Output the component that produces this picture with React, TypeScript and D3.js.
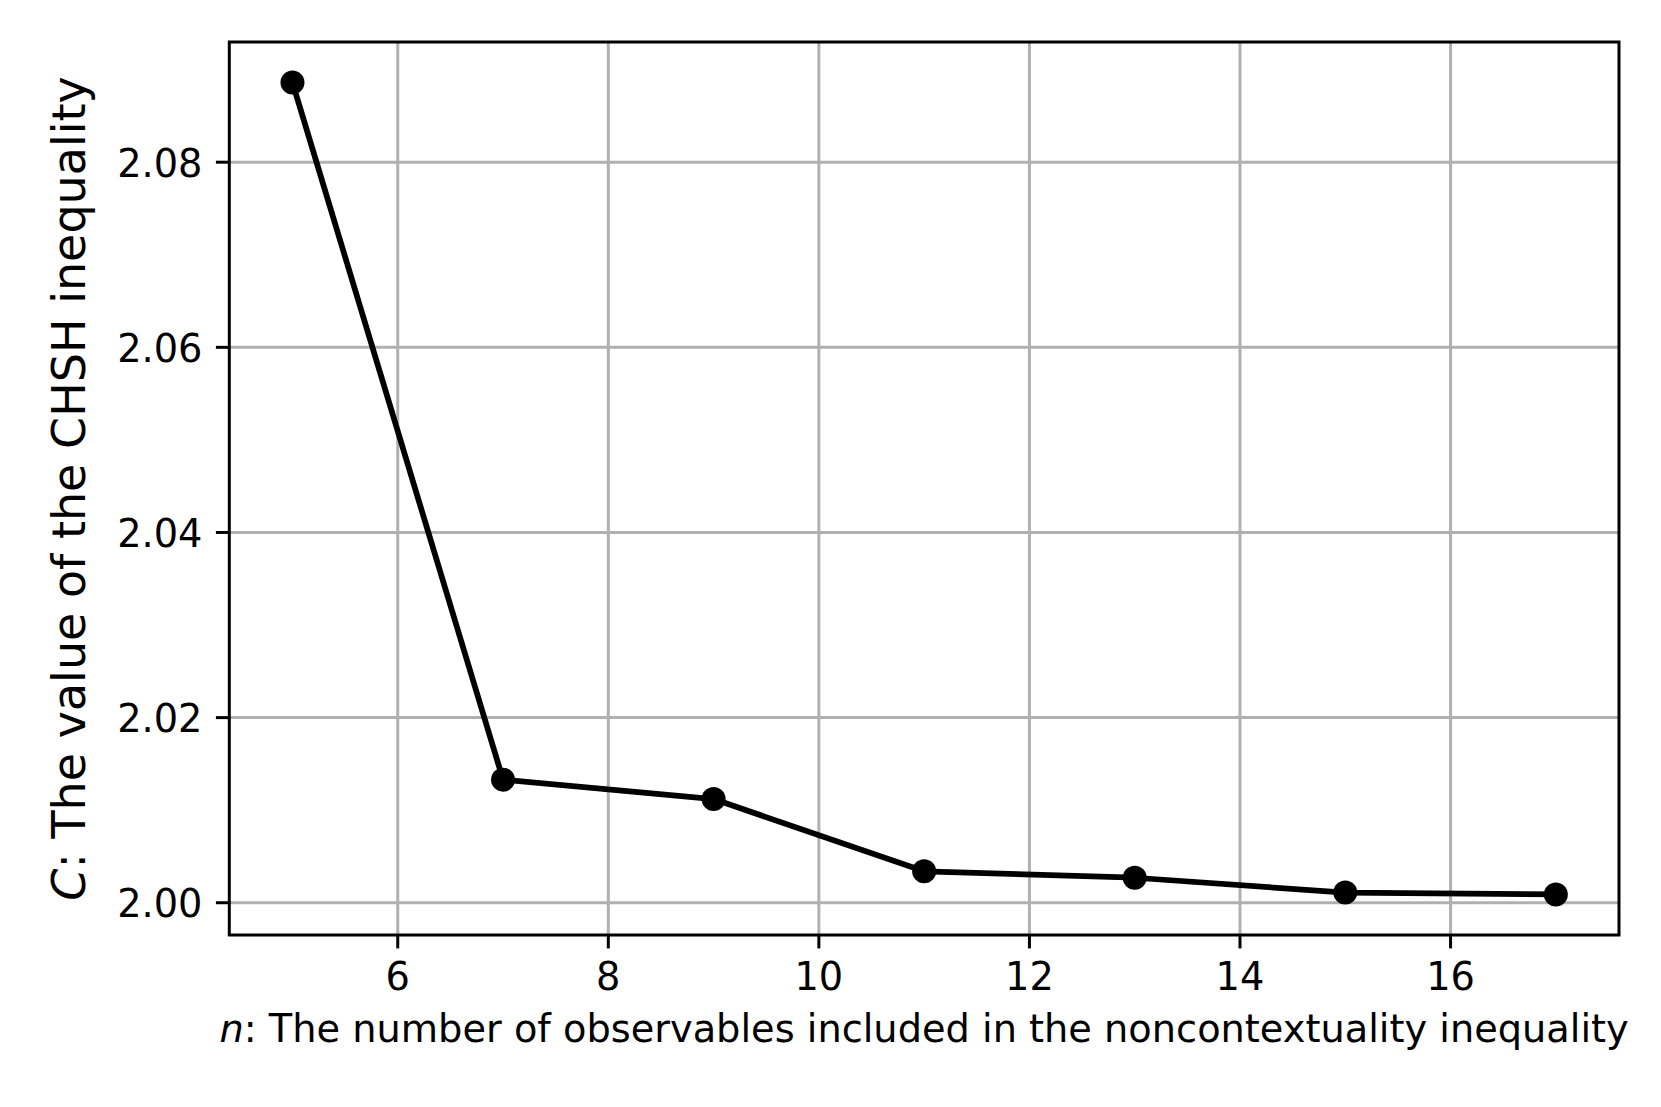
import React from "react";
import * as d3 from "d3";

const nValues = [5, 7, 9, 11, 13, 15, 17];
const chshValues = [2.0886, 2.0133, 2.0112, 2.0034, 2.0027, 2.0011, 2.0009];
const xTicks = [6, 8, 10, 12, 14, 16];
const yTicks = [2.0, 2.02, 2.04, 2.06, 2.08];

const W = 1661;
const H = 1107;
const left = 229.3;
const right = 1619;
const top = 42;
const bottom = 935;
const FONT = "DejaVu Sans";

function padded(vals: number[]): [number, number] {
  const [a, b] = d3.extent(vals) as [number, number];
  const m = (b - a) * 0.05;
  return [a - m, b + m];
}

export default function App() {
  const x = d3.scaleLinear().domain(padded(nValues)).range([left, right]);
  const y = d3.scaleLinear().domain(padded(chshValues)).range([bottom, top]);
  const pts: [number, number][] = nValues.map((n, i) => [n, chshValues[i]]);
  const line = d3
    .line<[number, number]>()
    .x((d) => x(d[0]))
    .y((d) => y(d[1]));
  const tickLen = 13.4;
  const fmt = d3.format(".2f");
  const fs = 38.3;

  return (
    <svg
      width={W}
      height={H}
      viewBox={`0 0 ${W} ${H}`}
      style={{ position: "absolute", left: 0, top: 0, background: "#fff" }}
      fontFamily={FONT}
    >
      <rect x={0} y={0} width={W} height={H} fill="#fff" />
      <g>
        {xTicks.map((t) => (
          <line key={"gx" + t} x1={x(t)} x2={x(t)} y1={top} y2={bottom} stroke="#b0b0b0" strokeWidth={3} />
        ))}
        {yTicks.map((t) => (
          <line key={"gy" + t} x1={left} x2={right} y1={y(t)} y2={y(t)} stroke="#b0b0b0" strokeWidth={3} />
        ))}
      </g>
      <path d={line(pts) || ""} fill="none" stroke="#000" strokeWidth={5.75} strokeLinejoin="round" strokeLinecap="square" />
      {pts.map((p, i) => (
        <circle key={i} cx={x(p[0])} cy={y(p[1])} r={12} fill="#000" />
      ))}
      <rect x={left} y={top} width={right - left} height={bottom - top} fill="none" stroke="#000" strokeWidth={3} />
      {xTicks.map((t) => (
        <g key={"tx" + t}>
          <line x1={x(t)} x2={x(t)} y1={bottom} y2={bottom + tickLen} stroke="#000" strokeWidth={3} />
          <text x={x(t)} y={990} textAnchor="middle" fontSize={fs} fill="#000">
            {t}
          </text>
        </g>
      ))}
      {yTicks.map((t) => (
        <g key={"ty" + t}>
          <line x1={left - tickLen} x2={left} y1={y(t)} y2={y(t)} stroke="#000" strokeWidth={3} />
          <text x={left - tickLen - 13.4} y={y(t) + 14.5} textAnchor="end" fontSize={fs} fill="#000">
            {fmt(t)}
          </text>
        </g>
      ))}
      <text x={(left + right) / 2} y={1042} textAnchor="middle" fontSize={fs} fill="#000">
        <tspan fontStyle="italic">n</tspan>
        <tspan>: The number of observables included in the noncontextuality inequality</tspan>
      </text>
      <text
        transform={`translate(85, ${(top + bottom) / 2}) rotate(-90)`}
        textAnchor="middle"
        fontSize={46}
        fill="#000"
      >
        <tspan fontStyle="italic">C</tspan>
        <tspan>: The value of the CHSH inequality</tspan>
      </text>
    </svg>
  );
}
